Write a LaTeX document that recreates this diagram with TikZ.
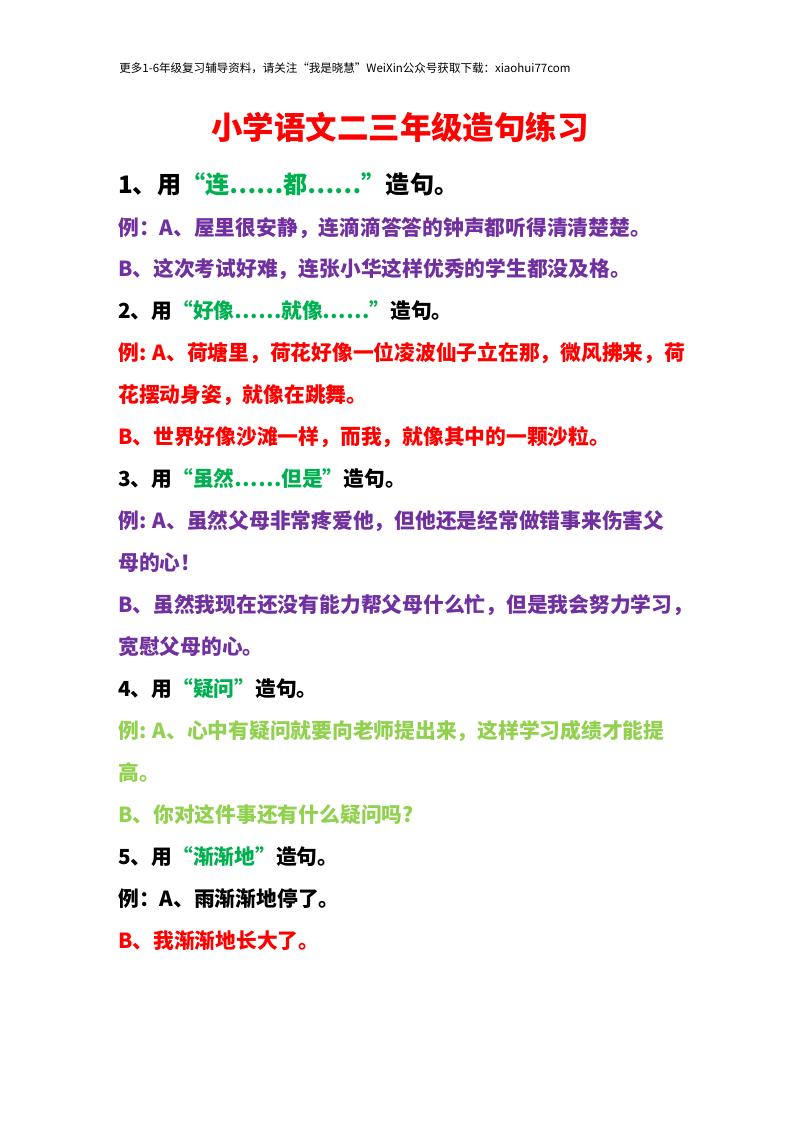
\documentclass[tikz,border=0pt]{standalone}
\usepackage{fontspec}
\setmainfont{Noto Sans CJK SC}
\usetikzlibrary{positioning}
\definecolor{tpurple}{RGB}{112,48,160}
\definecolor{tred}{RGB}{255,0,0}
\definecolor{tgreen}{RGB}{0,176,80}
\definecolor{tlgreen}{RGB}{146,208,80}
\begin{document}
\begin{tikzpicture}[x=0.02625cm,y=-0.02625cm,
      line/.style={anchor=base west,inner sep=0pt,font=\fontsize{15.5}{18}\selectfont\bfseries},
      qhead/.style={line,font=\fontsize{15.5}{18}\selectfont\bfseries}]
      \useasboundingbox (0,0) rectangle (800,1132);
      % Header and title
      \node[anchor=base,inner sep=0pt,font=\fontsize{8.6}{10}\selectfont] (header) at (345,72)
        {更多1-6年级复习辅导资料，请关注“我是晓慧”WeiXin公众号获取下载：xiaohui77com};
      \node[anchor=base,inner sep=0pt,text=tred,font=\fontsize{23.5}{27}\selectfont\bfseries] (title) at (400,139) {小学语文二三年级造句练习};

      % Question 1
      \node[line,font=\fontsize{18}{21}\selectfont\bfseries] (q1) at (118,193) {1、用\textcolor{tgreen}{“连……都……”}造句。};
      \node[line,text=tpurple] (q1a) at (118,235) {例：A、屋里很安静，连滴滴答答的钟声都听得清清楚楚。};
      \node[line,text=tpurple] (q1b) at (118,276) {B、这次考试好难，连张小华这样优秀的学生都没及格。};

      % Question 2
      \node[qhead] (q2) at (118,318) {2、用\textcolor{tgreen}{“好像……就像……”}造句。};
      \node[line,text=tred] (q2a) at (118,360) {例: A、荷塘里，荷花好像一位凌波仙子立在那，微风拂来，荷};
      \node[line,text=tred] (q2a2) at (118,402) {花摆动身姿，就像在跳舞。};
      \node[line,text=tred] (q2b) at (118,444) {B、世界好像沙滩一样，而我，就像其中的一颗沙粒。};

      % Question 3
      \node[qhead] (q3) at (118,486) {3、用\textcolor{tgreen}{“虽然……但是”}造句。};
      \node[line,text=tpurple] (q3a) at (118,528) {例: A、虽然父母非常疼爱他，但他还是经常做错事来伤害父};
      \node[line,text=tpurple] (q3a2) at (118,570) {母的心！};
      \node[line,text=tpurple] (q3b) at (118,612) {B、虽然我现在还没有能力帮父母什么忙，但是我会努力学习，};
      \node[line,text=tpurple] (q3b2) at (118,654) {宽慰父母的心。};

      % Question 4
      \node[qhead] (q4) at (118,696) {4、用\textcolor{tgreen}{“疑问”}造句。};
      \node[line,text=tlgreen] (q4a) at (118,738) {例: A、心中有疑问就要向老师提出来，这样学习成绩才能提};
      \node[line,text=tlgreen] (q4a2) at (118,780) {高。};
      \node[line,text=tlgreen] (q4b) at (118,822) {B、你对这件事还有什么疑问吗?};

      % Question 5
      \node[qhead] (q5) at (118,864) {5、用\textcolor{tgreen}{“渐渐地”}造句。};
      \node[line] (q5a) at (118,906) {例：A、雨渐渐地停了。};
      \node[line,text=tred] (q5b) at (118,948) {B、我渐渐地长大了。};
\end{tikzpicture}
\end{document}
